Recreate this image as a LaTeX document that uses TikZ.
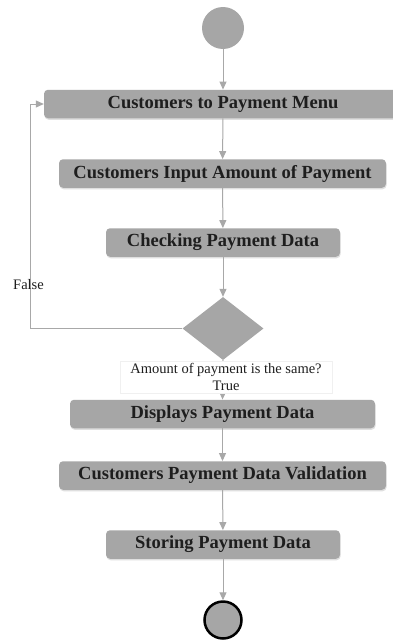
\documentclass[tikz,border=0pt]{standalone}
\usepackage{fontspec}
\setmainfont{Liberation Serif}
\usetikzlibrary{arrows.meta,shapes.geometric,shadows}
\definecolor{boxgray}{HTML}{A6A6A6}
\definecolor{linegray}{HTML}{A8A8A8}
\definecolor{txt}{HTML}{1E1E1E}
\tikzset{
  actbox/.style={rectangle, rounded corners=4pt, fill=boxgray, draw=none,
    minimum height=28.5pt, inner sep=0pt, text=txt,
    font=\fontsize{18.5}{20}\selectfont\bfseries,
    drop shadow={shadow xshift=0.6pt, shadow yshift=-1.5pt, opacity=0.25, fill=gray}},
  flow/.style={draw=linegray, line width=1pt, -{Triangle[length=8pt,width=7pt,fill=linegray]}},
  plain/.style={font=\fontsize{14.5}{16}\selectfont, text=txt}
}
\begin{document}
\begin{tikzpicture}[x=1pt,y=-1pt]
\useasboundingbox (0,0) rectangle (393,640);
\fill[white] (0,0) rectangle (393,640);
% nodes
\node[circle, fill=boxgray, minimum size=42pt, inner sep=0pt] (start) at (223,28) {};
\node[actbox, minimum width=358pt] (b1) at (223,104) {Customers to Payment Menu};
\node[actbox, minimum width=327pt] (b2) at (222.5,173.5) {Customers Input Amount of Payment};
\node[actbox, minimum width=234pt] (b3) at (223,242.5) {Checking Payment Data};
\node[diamond, fill=boxgray, minimum width=81pt, minimum height=63pt, inner sep=0pt, aspect=1.29] (dec) at (223,328.5) {};
\node[actbox, minimum width=305pt] (b4) at (222.5,414) {Displays Payment Data};
\node[actbox, minimum width=327pt] (b5) at (222.5,475.5) {Customers Payment Data Validation};
\node[actbox, minimum width=234pt] (b6) at (223,544.5) {Storing Payment Data};
\node[circle, fill=boxgray, draw=black, line width=2.5pt, minimum size=37pt, inner sep=0pt] (end) at (223,620) {};
% connectors
\draw[flow] (start) -- (b1);
\draw[flow] (b1) -- (b2);
\draw[flow] (b2) -- (b3);
\draw[flow] (b3) -- (dec);
\coordinate (lc1) at (30,328.5);
\coordinate (lc2) at (30,104);
\draw[flow] (dec.west) -- (lc1) -- (lc2) -- (b1.west);
\draw[flow] (dec.south) -- (b4.north);
\node[plain, fill=white, draw=black!6, minimum width=212pt, minimum height=32pt, inner sep=1pt, align=center] (lbl) at (226,377)
  {Amount of payment is the same?\\[1pt]True};
\draw[flow] (b4) -- (b5);
\draw[flow] (b5) -- (b6);
\draw[flow] (b6) -- (end);
\node[plain, anchor=west, inner sep=0pt] (false) at (13,285) {False};
\end{tikzpicture}
\end{document}
